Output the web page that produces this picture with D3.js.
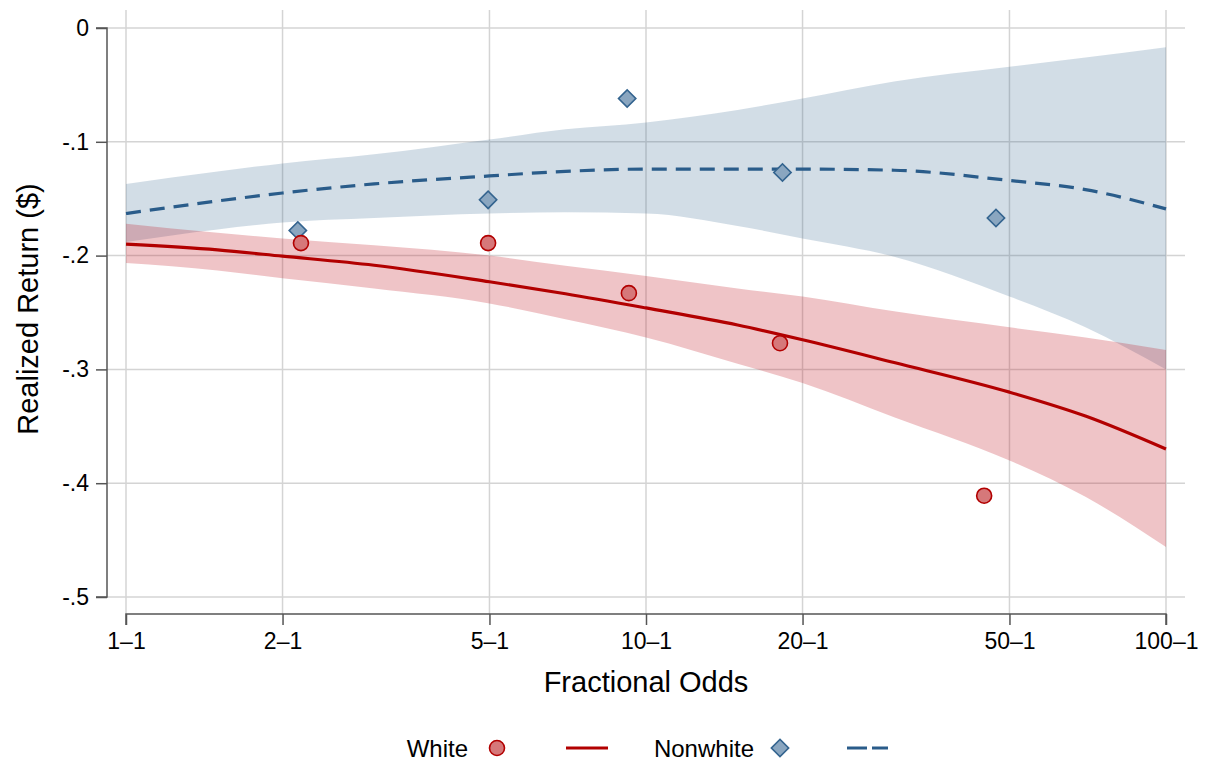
<!DOCTYPE html>
<html>
<head>
<meta charset="utf-8">
<script src="https://cdn.jsdelivr.net/npm/d3@7"></script>
<style>
  html, body { margin: 0; padding: 0; background: #fff; }
  svg { display: block; font-family: "Liberation Sans", Arial, Helvetica, sans-serif; }
</style>
</head>
<body>
<svg id="chart" width="1209" height="763"></svg>
<script>
// ---- data ----
const xTicks = [1, 2, 5, 10, 20, 50, 100];
const xTickLabels = ["1–1", "2–1", "5–1", "10–1", "20–1", "50–1", "100–1"];
const yTicks = [0, -0.1, -0.2, -0.3, -0.4, -0.5];
const yTickLabels = ["0", "-.1", "-.2", "-.3", "-.4", "-.5"];

const whiteOdds = [2.17, 4.97, 9.27, 18.1, 44.7];
const whiteReturn = [-0.189, -0.189, -0.233, -0.277, -0.411];
const nonwhiteOdds = [2.14, 4.97, 9.2, 18.3, 47.1];
const nonwhiteReturn = [-0.178, -0.151, -0.062, -0.127, -0.167];

const fitOdds     = [1, 1.5, 2, 3, 5, 7, 10, 15, 20, 30, 50, 70, 100];
const whiteFit    = [-0.190, -0.195, -0.2005, -0.2085, -0.223, -0.2335, -0.246, -0.261, -0.274, -0.294, -0.320, -0.341, -0.370];
const whiteUpper  = [-0.172, -0.180, -0.185, -0.191, -0.200, -0.209, -0.218, -0.229, -0.236, -0.249, -0.263, -0.272, -0.283];
const whiteLower  = [-0.2065, -0.213, -0.220, -0.229, -0.242, -0.256, -0.272, -0.295, -0.312, -0.342, -0.380, -0.412, -0.456];
const nonwhiteFit   = [-0.163, -0.152, -0.145, -0.137, -0.130, -0.126, -0.124, -0.124, -0.124, -0.125, -0.134, -0.142, -0.159];
const nonwhiteUpper = [-0.137, -0.126, -0.119, -0.111, -0.098, -0.089, -0.083, -0.072, -0.062, -0.047, -0.034, -0.026, -0.017];
const nonwhiteLower = [-0.188, -0.177, -0.171, -0.167, -0.163, -0.162, -0.163, -0.174, -0.185, -0.201, -0.236, -0.263, -0.300];

// ---- layout ----
const svg = d3.select("#chart");
const plotLeft = 107, plotRight = 1185, plotTop = 10, plotBottom = 614;
const x = d3.scaleLog().domain([1, 100]).range([126, 1166]);
const y = d3.scaleLinear().domain([-0.5, 0]).range([597, 28]);

const redLine = "#b20000", blueLine = "#2a5c8a";
const redBand = "rgba(190,20,30,0.25)", blueBand = "rgba(50,100,140,0.22)";

// gridlines
const grid = svg.append("g");
grid.selectAll("line.v").data(xTicks).join("line")
  .attr("x1", d => x(d)).attr("x2", d => x(d))
  .attr("y1", plotTop).attr("y2", plotBottom)
  .attr("stroke", "#d4d4d4").attr("stroke-width", 1.5);
grid.selectAll("line.h").data(yTicks).join("line")
  .attr("x1", plotLeft).attr("x2", plotRight)
  .attr("y1", d => y(d)).attr("y2", d => y(d))
  .attr("stroke", "#d4d4d4").attr("stroke-width", 1.5);

// bands
const curve = d3.curveMonotoneX;
const areaGen = (lo, hi) => d3.area()
  .x((d, i) => x(fitOdds[i]))
  .y0((d, i) => y(lo[i]))
  .y1((d, i) => y(hi[i]))
  .curve(curve);
svg.append("path").datum(fitOdds).attr("d", areaGen(nonwhiteLower, nonwhiteUpper)).attr("fill", blueBand);
svg.append("path").datum(fitOdds).attr("d", areaGen(whiteLower, whiteUpper)).attr("fill", redBand);

// fit lines
const lineGen = vals => d3.line().x((d, i) => x(fitOdds[i])).y((d, i) => y(vals[i])).curve(curve);
svg.append("path").datum(fitOdds).attr("d", lineGen(whiteFit))
  .attr("fill", "none").attr("stroke", redLine).attr("stroke-width", 3.2);
svg.append("path").datum(fitOdds).attr("d", lineGen(nonwhiteFit))
  .attr("fill", "none").attr("stroke", blueLine).attr("stroke-width", 3.2)
  .attr("stroke-dasharray", "15,9");

// points
const diamond = d3.symbol().type(d3.symbolSquare).size(150);
svg.selectAll("path.nw").data(nonwhiteOdds).join("path")
  .attr("transform", (d, i) => `translate(${x(d)},${y(nonwhiteReturn[i])}) rotate(45)`)
  .attr("d", diamond())
  .attr("fill", "#8aa6c0").attr("stroke", "#34648f").attr("stroke-width", 1.6);
svg.selectAll("circle.w").data(whiteOdds).join("circle")
  .attr("cx", d => x(d)).attr("cy", (d, i) => y(whiteReturn[i]))
  .attr("r", 7.5)
  .attr("fill", "#d6787a").attr("stroke", "#b20000").attr("stroke-width", 1.6);

// axes
const axisColor = "#555";
const yAxis = d3.axisLeft(y).tickValues(yTicks).tickFormat((d, i) => yTickLabels[i]).tickSize(11).tickPadding(7);
const gy = svg.append("g").attr("transform", `translate(${plotLeft},0)`).call(yAxis);
const xAxis = d3.axisBottom(x).tickValues(xTicks).tickFormat((d, i) => xTickLabels[i]).tickSize(11).tickPadding(8);
const gx = svg.append("g").attr("transform", `translate(0,${plotBottom})`).call(xAxis);
[gx, gy].forEach(g => {
  g.select(".domain").attr("stroke", axisColor).attr("stroke-width", 1.5);
  g.selectAll(".tick line").attr("stroke", axisColor).attr("stroke-width", 1.5);
  g.selectAll(".tick text").attr("fill", "#000").style("font-size", "23px")
    .style("font-family", "'Liberation Sans', Arial, sans-serif");
});
gy.select(".domain").attr("d", `M-11,${y(0)}H0V${y(-0.5)}H-11`);
gx.select(".domain").attr("d", `M${x(1)},11V0H${x(100)}V11`);

// axis titles
svg.append("text").attr("x", 646).attr("y", 692).attr("text-anchor", "middle")
  .style("font-size", "29px").text("Fractional Odds");
svg.append("text").attr("transform", "translate(38,309) rotate(-90)").attr("text-anchor", "middle")
  .style("font-size", "29px").text("Realized Return ($)");

// legend
const lg = svg.append("g");
const ly = 748;
lg.append("text").attr("x", 468).attr("y", ly + 9).attr("text-anchor", "end").style("font-size", "24px").text("White");
lg.append("circle").attr("cx", 497).attr("cy", ly).attr("r", 7.5)
  .attr("fill", "#d6787a").attr("stroke", "#b20000").attr("stroke-width", 1.6);
lg.append("line").attr("x1", 566).attr("x2", 608).attr("y1", ly).attr("y2", ly)
  .attr("stroke", redLine).attr("stroke-width", 3.2);
lg.append("text").attr("x", 754).attr("y", ly + 9).attr("text-anchor", "end").style("font-size", "24px").text("Nonwhite");
lg.append("path").attr("transform", `translate(780,${ly}) rotate(45)`).attr("d", diamond())
  .attr("fill", "#8aa6c0").attr("stroke", "#34648f").attr("stroke-width", 1.6);
lg.append("line").attr("x1", 847).attr("x2", 888).attr("y1", ly).attr("y2", ly)
  .attr("stroke", blueLine).attr("stroke-width", 3.2).attr("stroke-dasharray", "20,5");
</script>
</body>
</html>
